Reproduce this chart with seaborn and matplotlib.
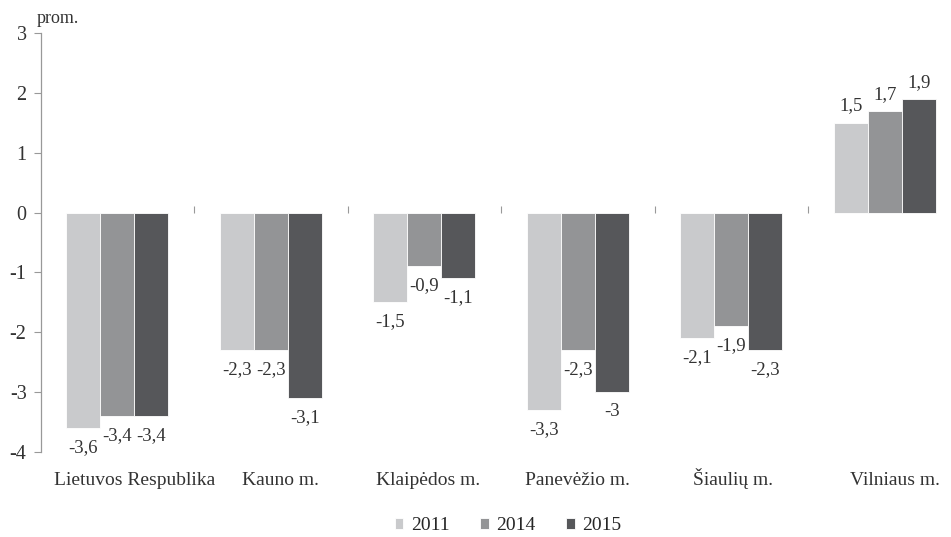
import matplotlib
matplotlib.use("Agg")
import matplotlib.pyplot as plt
import matplotlib.transforms as mtransforms
import seaborn as sns
import pandas as pd

categories = ["Lietuvos Respublika", "Kauno m.", "Klaipėdos m.", "Panevėžio m.", "Šiaulių m.", "Vilniaus m."]
years = ["2011", "2014", "2015"]
v2011 = [-3.6, -2.3, -1.5, -3.3, -2.1, 1.5]
v2014 = [-3.4, -2.3, -0.9, -2.3, -1.9, 1.7]
v2015 = [-3.4, -3.1, -1.1, -3.0, -2.3, 1.9]
yticks = [-4, -3, -2, -1, 0, 1, 2, 3]
colors = ["#c9cacc", "#939497", "#56575a"]
# horizontal nudges (pixels) of category labels, as laid out in the original
label_nudge = [17, 10, 4, 0, 2, 10]

df = pd.DataFrame({
    "cat": categories * 3,
    "year": [y for y in years for _ in categories],
    "val": v2011 + v2014 + v2015,
})

sns.set_style("white")
plt.rcParams["font.family"] = ["Liberation Serif", "DejaVu Serif"]

fig = plt.figure(figsize=(9.51, 5.37), dpi=100)
ax = fig.add_axes([0.0426, 0.1585, 0.9685, 0.7797])

sns.barplot(data=df, x="cat", y="val", hue="year", palette=colors,
            width=0.665, edgecolor="white", linewidth=0.6, ax=ax, legend=True)
handles, labs = ax.get_legend_handles_labels()
if ax.get_legend() is not None:
    ax.get_legend().remove()

ax.set_ylim(-4, 3)
ax.set_xlim(-0.5, len(categories) - 0.5)
ax.set_yticks(yticks)
ax.set_yticklabels([str(t) for t in yticks], fontsize=14.5, color="#333333")
ax.tick_params(axis="y", direction="out", length=5, width=0.8, color="#999999", left=True, pad=5)
ax.tick_params(axis="x", length=0, labelsize=14, labelcolor="#333333", pad=24)
ax.set_xlabel("")
ax.set_ylabel("")

for lbl, dx in zip(ax.get_xticklabels(), label_nudge):
    lbl.set_verticalalignment("baseline")
    lbl.set_transform(lbl.get_transform() + mtransforms.ScaledTranslation(dx / 100, 0, fig.dpi_scale_trans))

for s in ["top", "right", "bottom"]:
    ax.spines[s].set_visible(False)
ax.spines["left"].set_color("#999999")
ax.spines["left"].set_linewidth(0.9)

# zero line with category boundary ticks
sec = ax.secondary_xaxis(4 / 7)
sec.set_xticks([i + 0.5 for i in range(len(categories) - 1)])
sec.set_xticklabels([])
sec.tick_params(direction="out", length=5, width=0.8, color="#999999")
sec.spines["bottom"].set_color("#999999")
sec.spines["bottom"].set_linewidth(0.9)
sec.spines["top"].set_visible(False)

def fmt(v):
    return f"{v:g}".replace(".", ",")

for cont in ax.containers:
    neg = [fmt(b.get_height()) if b.get_height() < 0 else "" for b in cont]
    pos = [fmt(b.get_height()) if b.get_height() >= 0 else "" for b in cont]
    ax.bar_label(cont, labels=neg, padding=8, fontsize=13.5, color="#333333")
    ax.bar_label(cont, labels=pos, padding=6, fontsize=13.5, color="#333333")

ax.text(-0.525, 3.1, "prom.", fontsize=13, color="#333333", ha="left", va="bottom")

fig.legend(handles, labs, loc="center", bbox_to_anchor=(508 / 951, 1 - 526 / 537), ncol=3,
           frameon=False, fontsize=14, handlelength=0.45, handleheight=0.45,
           handletextpad=0.4, columnspacing=1.55, borderpad=0)

fig.savefig("out.png", dpi=100)
